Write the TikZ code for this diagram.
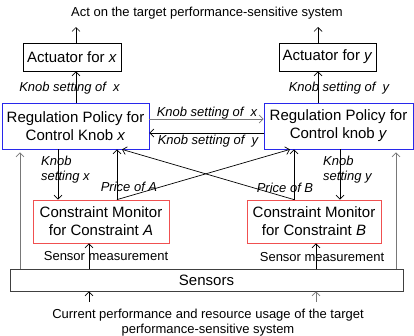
\documentclass[tikz,border=0pt]{standalone}
\usepackage{fontspec}
\setmainfont{Liberation Sans}
\usetikzlibrary{arrows.meta}
\definecolor{bluebox}{RGB}{40,40,235}
\definecolor{redbox}{RGB}{240,80,80}
\definecolor{grayline}{RGB}{120,120,120}
\begin{document}
\begin{tikzpicture}[x=1pt,y=-1pt,
  box/.style={draw, line width=0.8pt, inner sep=0pt, font=\fontsize{15}{18}\selectfont, align=center},
  lbl/.style={font=\fontsize{13}{15}\selectfont, inner sep=0pt, align=center},
  ilbl/.style={lbl, font=\fontsize{13}{15}\selectfont\itshape},
  arr/.style={-{Straight Barb[length=4pt,width=8pt]}, line width=0.7pt},
  garr/.style={arr, draw=grayline},
  ]
\useasboundingbox (0,0) rectangle (414,335);
% text nodes
\node[lbl] (top) at (207,13) {Act on the target performance-sensitive system};
\node[lbl] (bottom) at (208,323) {Current performance and resource usage of the target\\performance-sensitive system};
% boxes
\node[box, minimum width=98pt, minimum height=28pt] (actx) at (72,57) {Actuator for \textit{x}};
\node[box, minimum width=97pt, minimum height=28pt] (acty) at (327.5,57) {Actuator for \textit{y}};
\node[box, draw=bluebox, minimum width=147pt, minimum height=46pt] (regx) at (75.5,126) {Regulation Policy for\\Control Knob \textit{x}};
\node[box, draw=bluebox, minimum width=149pt, minimum height=46pt] (regy) at (338.5,126) {Regulation Policy for\\Control knob \textit{y}};
\node[box, draw=redbox, minimum width=136pt, minimum height=43pt] (cma) at (101,221.5) {Constraint Monitor\\for Constraint \textit{A}};
\node[box, draw=redbox, minimum width=134pt, minimum height=43pt] (cmb) at (314,221.5) {Constraint Monitor\\for Constraint \textit{B}};
\node[box, draw=black!75, minimum width=393pt, minimum height=22pt] (sensors) at (206.5,280) {Sensors};
% free ends
\coordinate (outx) at (76,27);
\coordinate (outy) at (318,27);
\coordinate (ina) at (89,302);
\coordinate (inb) at (316,302);
% actuators out
\draw[arr] (actx.north -| outx) -- (outx);
\draw[arr] (acty.north -| outy) -- (outy);
% regulation to actuator
\draw[arr] (regx.north -| outx) -- (actx.south -| outx);
\draw[arr] (regy.north -| outy) -- (acty.south -| outy);
\node[ilbl] (kx) at (69.5,88) {Knob setting of \ x};
\node[ilbl] (ky) at (339,88) {Knob setting of \ y};
% horizontal exchange
\draw[garr] ([yshift=7pt]regx.east) -- ([yshift=7pt]regy.west);
\draw[arr] ([yshift=-7pt]regy.west) -- ([yshift=-7pt]regx.east);
\node[ilbl] (hx) at (207,113) {Knob setting of \ x};
\node[ilbl] (hy) at (208,141) {Knob setting of \ y};
% knob settings down
\draw[arr] ([xshift=-17.5pt]regx.south) -- ([xshift=-17.5pt]regx.south |- cma.north);
\draw[arr] ([xshift=1.5pt]regy.south) -- ([xshift=1.5pt]regy.south |- cmb.north);
\node[ilbl, anchor=west, align=left] (ksx) at (41,170) {Knob\\setting x};
\node[ilbl, anchor=west, align=left] (ksy) at (323,170) {Knob\\setting y};
% prices
\draw[arr] ([xshift=16pt]cma.north) -- ([xshift=16pt]cma.north |- regx.south);
\draw[arr] ([xshift=16pt]cma.north) -- ([xshift=-48.5pt]regy.south);
\draw[arr] ([xshift=-20pt]cmb.north) -- ([xshift=-20pt]cmb.north |- regy.south);
\draw[arr] ([xshift=-20pt]cmb.north) -- ([xshift=46.5pt]regx.south);
\node[ilbl] (pa) at (129,187) {Price of \textit{A}};
\node[ilbl] (pb) at (285,188) {Price of \textit{B}};
% long gray arrows
\draw[garr] ([xshift=-186.5pt]sensors.north) -- ([xshift=-186.5pt,yshift=-3pt]sensors.north |- regx.south);
\draw[garr] ([xshift=189.5pt]sensors.north) -- ([xshift=189.5pt,yshift=-3pt]sensors.north |- regy.south);
% sensor measurements
\draw[arr] (sensors.north -| ina) -- (cma.south -| ina);
\draw[arr] (sensors.north -| inb) -- (cmb.south -| inb);
\node[lbl] (sma) at (106,256) {Sensor measurement};
\node[lbl] (smb) at (322,257) {Sensor measurement};
% inputs
\draw[arr] (ina) -- (sensors.south -| ina);
\draw[garr] (inb) -- (sensors.south -| inb);
\end{tikzpicture}
\end{document}
